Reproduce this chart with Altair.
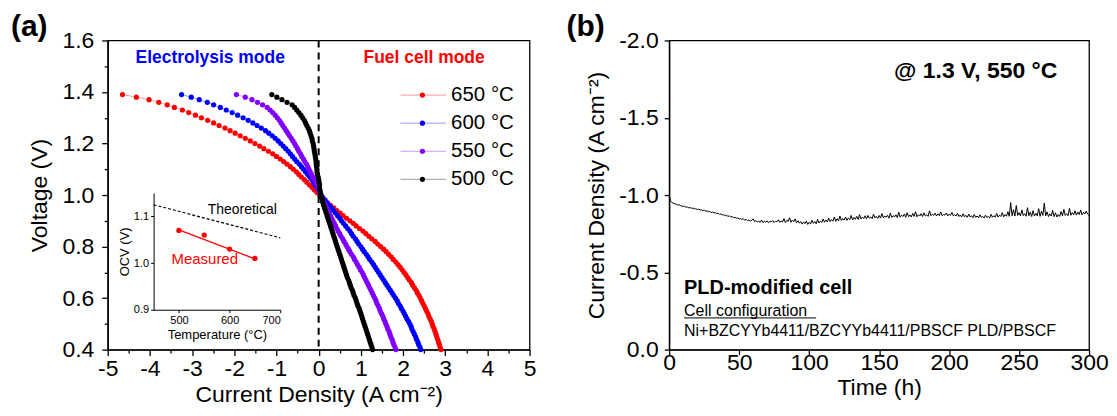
import altair as alt
import pandas as pd

FONT = "Liberation Sans"

# ---------------- Panel (a): I-V curves ----------------
voltage = [round(1.39 - 0.01 * i, 2) for i in range(100)]  # 1.39 ... 0.40 V
series_names = ["650 °C", "600 °C", "550 °C", "500 °C"]
series_colors = ["#FF0000", "#0000FF", "#8000FF", "#000000"]

j_650 = [-4.65, -4.32, -4.02, -3.79, -3.59, -3.42, -3.23, -3.08, -2.92, -2.78,
         -2.63, -2.49, -2.36, -2.22, -2.10, -1.98, -1.86, -1.74, -1.62, -1.51,
         -1.40, -1.30, -1.19, -1.09, -1.00, -0.91, -0.83, -0.75, -0.67, -0.60,
         -0.53, -0.47, -0.41, -0.34, -0.28, -0.22, -0.16, -0.10, -0.04, 0.02,
         0.08, 0.15, 0.21, 0.28, 0.36, 0.43, 0.51, 0.58, 0.66, 0.74,
         0.82, 0.89, 0.97, 1.05, 1.12, 1.19, 1.26, 1.34, 1.40, 1.47,
         1.54, 1.60, 1.66, 1.72, 1.77, 1.83, 1.88, 1.93, 1.98, 2.02,
         2.07, 2.11, 2.15, 2.20, 2.23, 2.27, 2.31, 2.34, 2.38, 2.41,
         2.44, 2.47, 2.50, 2.53, 2.56, 2.59, 2.61, 2.64, 2.67, 2.69,
         2.71, 2.74, 2.76, 2.78, 2.80, 2.82, 2.84, 2.86, 2.88, 2.90]
j_600 = [-3.25, -3.02, -2.83, -2.64, -2.49, -2.33, -2.19, -2.05, -1.92, -1.79,
         -1.67, -1.56, -1.46, -1.36, -1.26, -1.18, -1.10, -1.03, -0.96, -0.90,
         -0.84, -0.78, -0.72, -0.67, -0.62, -0.57, -0.52, -0.46, -0.41, -0.36,
         -0.31, -0.26, -0.21, -0.16, -0.12, -0.08, -0.04, 0.00, 0.03, 0.06,
         0.10, 0.15, 0.20, 0.25, 0.30, 0.35, 0.40, 0.45, 0.50, 0.54,
         0.59, 0.64, 0.69, 0.74, 0.78, 0.82, 0.87, 0.91, 0.95, 1.00,
         1.04, 1.08, 1.13, 1.17, 1.21, 1.26, 1.30, 1.34, 1.38, 1.42,
         1.46, 1.50, 1.54, 1.58, 1.62, 1.66, 1.70, 1.74, 1.78, 1.82,
         1.86, 1.89, 1.93, 1.96, 2.00, 2.03, 2.06, 2.09, 2.13, 2.16,
         2.19, 2.21, 2.24, 2.27, 2.30, 2.32, 2.35, 2.37, 2.40, 2.42]
j_550 = [-1.95, -1.74, -1.58, -1.45, -1.33, -1.22, -1.15, -1.09, -1.03, -0.98,
         -0.93, -0.89, -0.85, -0.81, -0.77, -0.73, -0.69, -0.65, -0.61, -0.57,
         -0.54, -0.50, -0.47, -0.43, -0.40, -0.36, -0.33, -0.29, -0.26, -0.23,
         -0.20, -0.17, -0.14, -0.10, -0.07, -0.04, -0.02, 0.00, 0.02, 0.04,
         0.07, 0.10, 0.13, 0.16, 0.19, 0.22, 0.25, 0.28, 0.31, 0.34,
         0.37, 0.40, 0.43, 0.46, 0.50, 0.53, 0.57, 0.60, 0.64, 0.67,
         0.71, 0.74, 0.78, 0.82, 0.85, 0.89, 0.92, 0.96, 0.99, 1.03,
         1.06, 1.09, 1.12, 1.15, 1.18, 1.21, 1.24, 1.27, 1.30, 1.33,
         1.36, 1.38, 1.41, 1.44, 1.46, 1.49, 1.52, 1.54, 1.57, 1.59,
         1.62, 1.64, 1.67, 1.69, 1.71, 1.74, 1.76, 1.78, 1.81, 1.83]
j_500 = [-1.11, -0.99, -0.87, -0.75, -0.63, -0.57, -0.52, -0.47, -0.42, -0.38,
         -0.34, -0.31, -0.28, -0.25, -0.22, -0.20, -0.18, -0.16, -0.15, -0.13,
         -0.12, -0.11, -0.10, -0.09, -0.08, -0.07, -0.06, -0.06, -0.05, -0.04,
         -0.04, -0.03, -0.01, 0.00, 0.01, 0.02, 0.02, 0.03, 0.04, 0.05,
         0.07, 0.09, 0.10, 0.12, 0.14, 0.16, 0.18, 0.20, 0.22, 0.24,
         0.26, 0.28, 0.30, 0.32, 0.34, 0.36, 0.38, 0.40, 0.42, 0.44,
         0.46, 0.48, 0.50, 0.52, 0.54, 0.56, 0.58, 0.60, 0.62, 0.64,
         0.66, 0.68, 0.71, 0.73, 0.75, 0.77, 0.80, 0.82, 0.84, 0.87,
         0.89, 0.91, 0.93, 0.96, 0.98, 1.00, 1.02, 1.04, 1.06, 1.08,
         1.10, 1.12, 1.14, 1.16, 1.18, 1.20, 1.22, 1.24, 1.26, 1.28]

# inset (OCV vs temperature)
inset_temp = [500, 550, 600, 650]
inset_ocv_measured = [1.07, 1.06, 1.03, 1.01]
fit_temp = [500, 650]
fit_ocv = [1.071, 1.009]
theory_temp = [450, 700]
theory_ocv = [1.125, 1.054]

# ---------------- Panel (b): stability test ----------------
time_h = list(range(301))
current_b = [
    -1.000,
    -0.962, -0.951, -0.947, -0.944, -0.940, -0.936, -0.938, -0.931, -0.929, -0.926,
    -0.928, -0.921, -0.923, -0.917, -0.919, -0.914, -0.916, -0.910, -0.912, -0.906,
    -0.909, -0.903, -0.905, -0.899, -0.902, -0.896, -0.898, -0.892, -0.894, -0.887,
    -0.890, -0.884, -0.886, -0.880, -0.882, -0.875, -0.878, -0.871, -0.873, -0.866,
    -0.869, -0.862, -0.865, -0.858, -0.861, -0.854, -0.856, -0.850, -0.852, -0.845,
    -0.848, -0.842, -0.846, -0.838, -0.842, -0.834, -0.839, -0.831, -0.836, -0.846,
    -0.828, -0.834, -0.825, -0.831, -0.823, -0.838, -0.822, -0.830, -0.824, -0.833,
    -0.821, -0.829, -0.826, -0.835, -0.822, -0.831, -0.827, -0.840, -0.824, -0.832,
    -0.826, -0.848, -0.822, -0.836, -0.829, -0.853, -0.824, -0.838, -0.827, -0.846,
    -0.820, -0.834, -0.818, -0.828, -0.812, -0.826, -0.815, -0.832, -0.810, -0.824,
    -0.813, -0.836, -0.817, -0.829, -0.814, -0.842, -0.819, -0.831, -0.822, -0.845,
    -0.824, -0.838, -0.826, -0.850, -0.828, -0.841, -0.831, -0.858, -0.830, -0.847,
    -0.833, -0.864, -0.835, -0.849, -0.838, -0.858, -0.836, -0.851, -0.841, -0.868,
    -0.839, -0.855, -0.843, -0.862, -0.842, -0.873, -0.845, -0.857, -0.848, -0.866,
    -0.846, -0.868, -0.850, -0.859, -0.847, -0.876, -0.852, -0.862, -0.849, -0.868,
    -0.851, -0.880, -0.853, -0.864, -0.856, -0.869, -0.850, -0.883, -0.855, -0.867,
    -0.858, -0.872, -0.854, -0.889, -0.857, -0.870, -0.861, -0.878, -0.856, -0.886,
    -0.860, -0.871, -0.858, -0.881, -0.862, -0.892, -0.859, -0.873, -0.864, -0.879,
    -0.861, -0.885, -0.865, -0.872, -0.862, -0.898, -0.866, -0.875, -0.869, -0.883,
    -0.864, -0.878, -0.867, -0.891, -0.866, -0.874, -0.870, -0.884, -0.865, -0.877,
    -0.868, -0.888, -0.866, -0.873, -0.864, -0.882, -0.861, -0.871, -0.858, -0.879,
    -0.860, -0.868, -0.856, -0.877, -0.858, -0.866, -0.854, -0.874, -0.856, -0.864,
    -0.853, -0.872, -0.855, -0.862, -0.851, -0.870, -0.854, -0.861, -0.852, -0.875,
    -0.856, -0.866, -0.858, -0.881, -0.857, -0.870, -0.861, -0.886, -0.859, -0.873,
    -0.863, -0.892, -0.862, -0.951, -0.866, -0.905, -0.864, -0.932, -0.868, -0.886,
    -0.865, -0.904, -0.867, -0.879, -0.863, -0.918, -0.866, -0.889, -0.861, -0.899,
    -0.864, -0.881, -0.866, -0.912, -0.862, -0.896, -0.868, -0.948, -0.865, -0.891,
    -0.861, -0.878, -0.864, -0.901, -0.860, -0.885, -0.858, -0.874, -0.862, -0.893,
    -0.865, -0.907, -0.868, -0.879, -0.866, -0.914, -0.869, -0.886, -0.872, -0.898,
    -0.870, -0.890, -0.874, -0.903, -0.872, -0.888, -0.878, -0.896, -0.876, -0.868,
]

# ================= build panel (a) =================
rows = []
for name, js in zip(series_names, [j_650, j_600, j_550, j_500]):
    for k, (v, j) in enumerate(zip(voltage, js)):
        rows.append({"series": name, "V": v, "J": j, "k": k})
curves = pd.DataFrame(rows)

color_enc = alt.Color("series:N", scale=alt.Scale(domain=series_names, range=series_colors), legend=None)

XA = alt.X("J:Q", scale=alt.Scale(domain=[-5, 5], nice=False),
           axis=alt.Axis(orient="bottom", values=list(range(-5, 6)), labelExpr="toString(datum.value)",
                         tickSize=6, labelPadding=2, labelFontSize=23, titleFontSize=23, titlePadding=3,
                         grid=False, labelFlush=False),
           title="Current Density (A cm⁻²)")
YA = alt.Y("V:Q", scale=alt.Scale(domain=[0.4, 1.6], nice=False),
           axis=alt.Axis(orient="left", values=[0.4, 0.6, 0.8, 1.0, 1.2, 1.4, 1.6],
                         labelExpr="format(datum.value, '.1f')",
                         tickSize=6, labelPadding=8, labelFontSize=23, titleFontSize=23, titlePadding=10,
                         grid=False, labelFlush=False),
           title="Voltage (V)")

lines = alt.Chart(curves).mark_line(strokeWidth=1, opacity=0.4).encode(
    x=XA, y=YA, color=color_enc, order=alt.Order("k:Q"))
points = alt.Chart(curves).mark_circle(size=27, opacity=1).encode(x=XA, y=YA, color=color_enc)

zero_rule = alt.Chart(pd.DataFrame({"J": [0]})).mark_rule(
    color="black", strokeWidth=2, strokeDash=[7, 5]).encode(x=XA)

mode_df = pd.DataFrame({"J": [-2.57, 2.50], "V": [1.53, 1.53],
                        "label": ["Electrolysis mode", "Fuel cell mode"],
                        "c": ["#0000FF", "#FF0000"]})
mode_text = alt.Chart(mode_df).mark_text(font=FONT, fontSize=17.5, fontWeight="bold").encode(
    x=XA, y=YA, text="label:N", color=alt.Color("c:N", scale=None))

# hand-made legend
leg_top, leg_step = 1.388, 0.109
leg_df = pd.DataFrame({
    "series": series_names,
    "V": [leg_top - i * leg_step for i in range(4)],
})
leg_df["J"] = 1.94
leg_df["J2"] = 3.02
leg_df["Jd"] = 2.46
leg_df["Jt"] = 3.14
leg_lines = alt.Chart(leg_df).mark_rule(strokeWidth=1, opacity=0.4).encode(
    x=XA, x2="J2:Q", y=YA, color=color_enc)
leg_dots = alt.Chart(leg_df).mark_circle(size=27, opacity=1).encode(
    x=alt.X("Jd:Q", scale=alt.Scale(domain=[-5, 5], nice=False)), y=YA, color=color_enc)
leg_text = alt.Chart(leg_df).mark_text(font=FONT, fontSize=20.5, align="left", color="black").encode(
    x=alt.X("Jt:Q", scale=alt.Scale(domain=[-5, 5], nice=False)), y=YA, text="series:N")

main_a = alt.layer(lines, points, zero_rule, mode_text, leg_lines, leg_dots, leg_text)

# minor ticks (separate axes sharing the same domain)
minor_df = pd.DataFrame({"J": [-5, 5], "V": [0.4, 1.6]})
minor_a = alt.Chart(minor_df).mark_circle(opacity=0).encode(
    x=alt.X("J:Q", scale=alt.Scale(domain=[-5, 5], nice=False),
            axis=alt.Axis(orient="bottom", values=[i + 0.5 for i in range(-5, 5)], labels=False,
                          domain=False, tickSize=3.5, grid=False, title=None)),
    y=alt.Y("V:Q", scale=alt.Scale(domain=[0.4, 1.6], nice=False),
            axis=alt.Axis(orient="left", values=[0.5, 0.7, 0.9, 1.1, 1.3, 1.5], labels=False,
                          domain=False, tickSize=3.5, grid=False, title=None)),
)

# inset
IX = alt.X("T:Q", scale=alt.Scale(domain=[450, 700], range=[46, 173], nice=False),
           axis=alt.Axis(orient="bottom", offset=-40, values=[500, 600, 700], tickSize=3,
                         labelFontSize=11, labelPadding=2, titleFontSize=13, titlePadding=3,
                         domainWidth=1, tickWidth=1, grid=False),
           title="Temperature (°C)")
IY = alt.Y("OCV:Q", scale=alt.Scale(domain=[0.9, 1.15], range=[270, 153], nice=False),
           axis=alt.Axis(orient="left", offset=-46, values=[0.9, 1.0, 1.1],
                         labelExpr="format(datum.value, '.1f')", tickSize=3,
                         labelFontSize=11, labelPadding=2, titleFontSize=13, titlePadding=2,
                         domainWidth=1, tickWidth=1, grid=False),
           title="OCV (V)")

theory = alt.Chart(pd.DataFrame({"T": theory_temp, "OCV": theory_ocv})).mark_line(
    color="black", strokeWidth=1.2, strokeDash=[3, 2]).encode(x=IX, y=IY)
fit = alt.Chart(pd.DataFrame({"T": fit_temp, "OCV": fit_ocv})).mark_line(
    color="#FF0000", strokeWidth=1.3).encode(x=IX, y=IY)
meas = alt.Chart(pd.DataFrame({"T": inset_temp, "OCV": inset_ocv_measured})).mark_circle(
    color="#FF0000", size=28, opacity=1).encode(x=IX, y=IY)
inset_lbl = pd.DataFrame({"T": [625, 551], "OCV": [1.114, 1.008],
                          "label": ["Theoretical", "Measured"], "c": ["#000000", "#FF0000"]})
inset_text1 = alt.Chart(inset_lbl.iloc[[0]]).mark_text(font=FONT, fontSize=14).encode(
    x=IX, y=IY, text="label:N", color=alt.Color("c:N", scale=None))
inset_text2 = alt.Chart(inset_lbl.iloc[[1]]).mark_text(font=FONT, fontSize=15).encode(
    x=IX, y=IY, text="label:N", color=alt.Color("c:N", scale=None))
inset = alt.layer(theory, fit, meas, inset_text1, inset_text2)

panel_a = alt.layer(main_a, minor_a, inset).resolve_scale(
    x="independent", y="independent").properties(
    width=423, height=310,
    title=alt.TitleParams("(a)", anchor="start", frame="group", dx=-97, offset=-13,
                          fontSize=30, fontWeight="bold", font=FONT, color="black"))

# ================= build panel (b) =================
dfb = pd.DataFrame({"t": time_h, "j": current_b})
XB = alt.X("t:Q", scale=alt.Scale(domain=[0, 300], nice=False),
           axis=alt.Axis(orient="bottom", values=list(range(0, 301, 50)), tickSize=5, labelPadding=-3,
                         labelFontSize=23, titleFontSize=23, titlePadding=2, grid=False, labelFlush=False),
           title="Time (h)")
YB = alt.Y("j:Q", scale=alt.Scale(domain=[0, -2], nice=False),
           axis=alt.Axis(orient="left", values=[-2.0, -1.5, -1.0, -0.5, 0.0],
                         labelExpr="replace(format(datum.value, '.1f'), '\u2212', '-')",
                         tickSize=5, labelPadding=6, labelFontSize=23, titleFontSize=23,
                         titlePadding=10, grid=False, labelFlush=False),
           title="Current Density (A cm⁻²)")
line_b = alt.Chart(dfb).mark_line(color="black", strokeWidth=1).encode(x=XB, y=YB)

cond_df = pd.DataFrame({"t": [219], "j": [-1.80], "label": ["@ 1.3 V, 550 °C"]})
cond_text = alt.Chart(cond_df).mark_text(font=FONT, fontSize=23, fontWeight="bold", color="black").encode(
    x=XB, y=YB, text="label:N")
cell_df = pd.DataFrame({"t": [10.6], "j": [-0.40], "label": ["PLD-modified cell"]})
cell_text = alt.Chart(cell_df).mark_text(font=FONT, fontSize=20, fontWeight="bold", align="left",
                                         color="black").encode(x=XB, y=YB, text="label:N")
conf_df = pd.DataFrame({"t": [10.6, 10.6], "j": [-0.25, -0.12],
                        "label": ["Cell configuration", "Ni+BZCYYb4411/BZCYYb4411/PBSCF PLD/PBSCF"]})
conf_text = alt.Chart(conf_df).mark_text(font=FONT, fontSize=16, align="left", color="black").encode(
    x=XB, y=YB, text="label:N")
under_df = pd.DataFrame({"t": [10.6], "t2": [105.0], "j": [-0.205]})
underline = alt.Chart(under_df).mark_rule(color="black", strokeWidth=1).encode(x=XB, x2="t2:Q", y=YB)

panel_b = alt.layer(line_b, cond_text, cell_text, conf_text, underline).properties(
    width=421, height=310,
    title=alt.TitleParams("(b)", anchor="start", frame="group", dx=-103, offset=-13,
                          fontSize=30, fontWeight="bold", font=FONT, color="black"))

chart = alt.hconcat(panel_a, panel_b, spacing=28).properties(
    padding={"left": 2, "top": 3, "right": 0, "bottom": 0}
).configure_view(stroke="black", strokeWidth=1.3).configure_axis(
    domainColor="black", tickColor="black", labelColor="black", titleColor="black",
    labelFont=FONT, titleFont=FONT, titleFontWeight="normal", domainWidth=1.3, tickWidth=1.3
)

chart.save("out.html", embed_options={"renderer": "svg", "actions": False})
